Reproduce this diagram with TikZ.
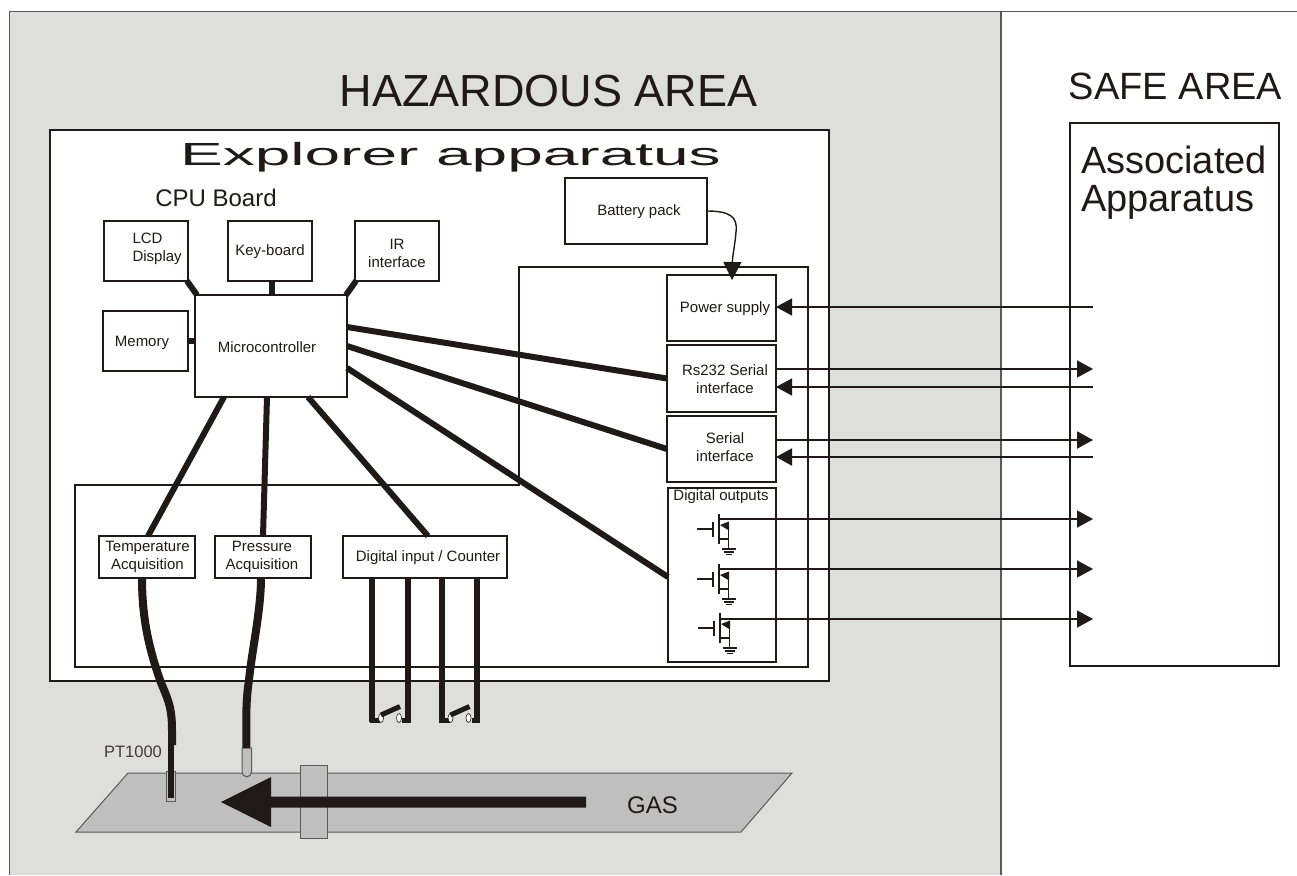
\documentclass[tikz,border=0pt]{standalone}
\usepackage{fontspec}
\setmainfont{Liberation Sans}
\usetikzlibrary{arrows.meta,calc}
\definecolor{ink}{HTML}{1F1A17}
\definecolor{hazard}{HTML}{DEDEDD}
\definecolor{pipe}{HTML}{BFBFBF}
\definecolor{edge}{HTML}{5A5A5A}
\tikzset{
  boxnode/.style={draw=ink,fill=white,line width=1.7pt,inner sep=0pt,outer sep=0pt,anchor=north west},
  lbl/.style={text=ink,inner sep=0pt,outer sep=0pt,align=center,font=\fontsize{15}{18}\selectfont},
  thick wire/.style={draw=ink,line width=6pt},
  cable/.style={draw=ink,line width=8pt},
  inarrow/.style={draw=ink,line width=1.4pt,-{Triangle[length=16pt,width=17pt]}},
  fetline/.style={draw=ink,line width=1.5pt},
  greyshape/.style={draw=edge,fill=pipe,line width=1pt}
}
\newcommand{\fetsymbol}[2]{%
  \begin{scope}[shift={(#1,#2)}]
    \draw[fetline] (697,529) -- (713,529);
    \draw[fetline,line width=1.8pt] (713,522) -- (713,537);
    \draw[fetline,line width=2.8pt] (719,514) -- (719,544);
    \fill[ink] (720,525) -- (729,521.5) -- (729,530.5) -- cycle;
    \draw[fetline] (719,539) -- (728.5,539) -- (728.5,549);
    \draw[fetline] (726,527) -- (728.5,527) -- (728.5,539);
    \draw[fetline] (722,549) -- (736,549);
    \draw[fetline] (724,552) -- (734,552);
    \draw[fetline] (726,554.5) -- (732,554.5);
  \end{scope}}
\newcommand{\switchsymbol}[1]{%
  \begin{scope}[shift={(#1,0)}]
    \draw[ink,line width=5pt] (369.5,720) -- (380,720);
    \draw[ink,line width=5pt] (402,720) -- (410.5,720);
    \draw[ink,fill=white,line width=.6pt] (381,718) ellipse (2.5pt and 4.5pt);
    \draw[ink,fill=white,line width=.6pt] (399,718) ellipse (2.5pt and 4.5pt);
    \draw[ink,line width=5pt] (381,715) -- (400,706.5);
  \end{scope}}
\begin{document}
\begin{tikzpicture}[x=1pt,y=-1pt]
\useasboundingbox (0,0) rectangle (1297,875);
\fill[white] (0,0) rectangle (1297,875);
% areas
\fill[hazard] (9.5,11.5) rectangle (1001,875);
\draw[edge,line width=1.2pt] (9.5,875) -- (9.5,11.5) -- (1297,11.5);
\draw[edge,line width=1.5pt] (1001,11.5) -- (1001,875);
\node[lbl,font=\fontsize{45}{50}\selectfont] (haz) at (548.5,91) {HAZARDOUS AREA};
\node[lbl,font=\fontsize{38}{42}\selectfont] (safe) at (1175.5,86) {SAFE AREA};
% associated
\node[boxnode,minimum width=209pt,minimum height=543pt] (assoc) at (1070,123) {};
\node[lbl,align=left,anchor=north west,font=\fontsize{38}{38}\selectfont] (assoctxt) at (1081,146) {Associated\\Apparatus};
% explorer box
\node[boxnode,minimum width=779pt,minimum height=551pt] (explorer) at (50,130) {};
\node[lbl,font=\fontsize{32}{34}\selectfont,xscale=2.0,transform shape] (exptitle) at (450.5,157) {Explorer apparatus};
\node[lbl,font=\fontsize{24}{26}\selectfont] (cpu) at (216,198) {CPU Board};
% inner outline
\draw[draw=ink,line width=1.7pt] (75,485) -- (519,485) -- (519,267) -- (808,267) -- (808,667) -- (75,667) -- cycle;
% upper boxes
\node[boxnode,minimum width=84pt,minimum height=60pt] (lcd) at (104,221) {};
\node[boxnode,minimum width=84pt,minimum height=60pt] (key) at (228,221) {};
\node[boxnode,minimum width=84pt,minimum height=60pt] (ir) at (355,221) {};
\node[boxnode,minimum width=85pt,minimum height=60pt] (mem) at (103,311) {};
\node[boxnode,minimum width=152pt,minimum height=102pt] (mc) at (195,295) {};
\node[boxnode,minimum width=142pt,minimum height=66pt] (bat) at (565,178) {};
% acquisition boxes
\node[boxnode,minimum width=96pt,minimum height=42pt] (temp) at (99,536) {};
\node[boxnode,minimum width=96pt,minimum height=42pt] (press) at (215,536) {};
\node[boxnode,minimum width=164pt,minimum height=42pt] (dig) at (343,536) {};
% right stack
\node[boxnode,minimum width=109pt,minimum height=66pt] (pow) at (667,275) {};
\node[boxnode,minimum width=109pt,minimum height=67pt] (rs) at (667,345) {};
\node[boxnode,minimum width=109pt,minimum height=66pt] (ser) at (667,416) {};
\node[boxnode,minimum width=108pt,minimum height=174pt] (dout) at (668,488) {};
% thick connectors
\draw[thick wire] ([xshift=-1pt]lcd.south east) -- ([xshift=2pt]mc.north west);
\draw[thick wire] ([xshift=2pt]key.south) -- ([xshift=2pt]key.south |- mc.north);
\draw[thick wire] ([xshift=1pt]ir.south west) -- ([xshift=-1pt]mc.north east);
\draw[thick wire] (mem.east) -- (mem.east -| mc.west);
\draw[thick wire] ([yshift=19pt]mc.east) -- (rs.west);
\draw[thick wire] (mc.east) -- (ser.west);
\draw[thick wire] ([yshift=-22pt]mc.east) -- ([yshift=-2pt]dout.west);
\draw[thick wire] ([xshift=29pt]mc.south west) -- ([xshift=49pt]temp.north west);
\draw[thick wire] ([xshift=72pt]mc.south west) -- ([xshift=48pt]press.north west);
\draw[thick wire] ([xshift=113pt]mc.south west) -- ([xshift=85pt]dig.north west);
% labels of the boxes
\node[lbl,align=left,anchor=north west] (lcdtxt) at (132.5,233) {LCD\\Display};
\node[lbl] (keytxt) at (270,252) {Key-board};
\node[lbl] (irtxt) at (397,253) {IR\\interface};
\node[lbl] (memtxt) at (142,343) {Memory};
\node[lbl] (mctxt) at (267,347.5) {Microcontroller};
\node[lbl] (battxt) at (639,212) {Battery pack};
\node[lbl] (powtxt) at (725,309) {Power supply};
\node[lbl] (rstxt) at (725,379) {Rs232 Serial\\interface};
\node[lbl] (sertxt) at (725,447) {Serial\\interface};
\node[lbl] (douttxt) at (721,497) {Digital outputs};
\node[lbl] (temptxt) at (147.5,557) {Temperature\\Acquisition};
\node[lbl] (presstxt) at (262,557) {Pressure\\Acquisition};
\node[lbl] (digtxt) at (428,558) {Digital input / Counter};
% battery feed
\draw[draw=ink,line width=1.4pt,-{Triangle[length=18pt,width=18pt]}] (bat.east) .. controls (730,211) and (738,217) .. (736,232) .. controls (735,245) and (732.5,255) .. ([xshift=10.5pt]pow.north |- 0,280);
% links to the associated apparatus
\coordinate (powend) at (1093,307);
\coordinate (rsoutend) at (1093,369);
\coordinate (rsinend) at (1093,387);
\coordinate (seroutend) at (1093,440);
\coordinate (serinend) at (1093,457);
\coordinate (fetaend) at (1093,519);
\coordinate (fetbend) at (1093,569);
\coordinate (fetcend) at (1093,619);
\coordinate (fetastart) at (719,519);
\coordinate (fetbstart) at (719,569);
\coordinate (fetcstart) at (720,619);
\draw[inarrow] (powend) -- (powend -| pow.east);
\draw[inarrow] (rs.east |- rsoutend) -- (rsoutend);
\draw[inarrow] (rsinend) -- (rsinend -| rs.east);
\draw[inarrow,line width=2pt] (ser.east |- seroutend) -- (seroutend);
\draw[inarrow,line width=2pt] (serinend) -- (serinend -| ser.east);
\draw[inarrow] (fetastart) -- (fetaend);
\draw[inarrow] (fetbstart) -- (fetbend);
\draw[inarrow] (fetcstart) -- (fetcend);
% transistors
\fetsymbol{0}{0}
\fetsymbol{0}{50}
\fetsymbol{1}{99}
% pipe
\draw[greyshape] (128,773) -- (792,773) -- (741,832) -- (76,832) -- cycle;
\draw[greyshape] (300,765.5) rectangle (327,838);
% big arrow
\fill[ink] (586,796.5) -- (271,796.5) -- (271,777) -- (221,802) -- (271,827) -- (271,807.5) -- (586,807.5) -- cycle;
\node[lbl,font=\fontsize{24}{26}\selectfont] (gas) at (652.5,805) {GAS};
% probes
\draw[greyshape] (166,771) rectangle (175.5,801);
\draw[greyshape] (242,748) -- (242,772) arc[start angle=180,end angle=360,radius=4.75pt] -- (251.5,748) -- cycle;
\node[lbl,text=ink!85,font=\fontsize{16.5}{18}\selectfont] (pt) at (133,752) {PT1000};
% cables
\draw[cable] ([xshift=-5pt]temp.south) .. controls (142,610) and (146,640) .. (160,680) .. controls (167,698) and (172,705) .. (172,730) -- (172,745);
\draw[thick wire] (171,745) -- (171,798);
\draw[cable] ([xshift=-2pt]press.south) .. controls (261,610) and (252,650) .. (249,680) .. controls (246,700) and (246,715) .. (246.5,748);
% digital inputs and switches
\draw[thick wire] (dig.south -| 372,0) -- (372,722);
\draw[thick wire] (dig.south -| 408,0) -- (408,722);
\draw[thick wire] (dig.south -| 442,0) -- (442,722);
\draw[thick wire] (dig.south -| 477,0) -- (477,722);
\switchsymbol{0}
\switchsymbol{69.5}
\end{tikzpicture}
\end{document}
